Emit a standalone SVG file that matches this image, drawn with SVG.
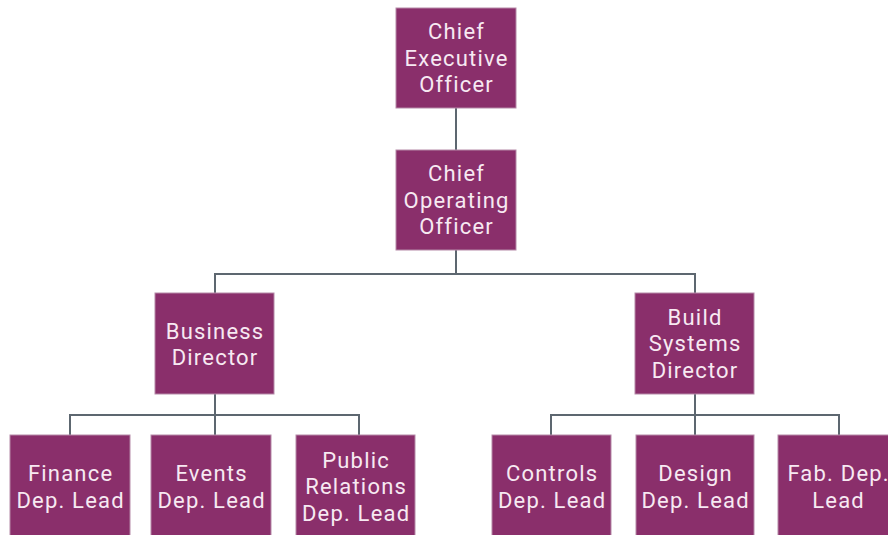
<svg xmlns="http://www.w3.org/2000/svg" width="888" height="535" viewBox="0 0 888 535">
<style>
.box{fill:#8a2f6b;stroke:#b58aa8;stroke-width:1}
.t{font-family:Roboto,"Liberation Sans",sans-serif;font-size:22px;letter-spacing:1.2px;fill:#f7e9f2;text-anchor:middle}
.c{fill:none;stroke:#5d6770;stroke-width:2}
</style>
<rect width="888" height="535" fill="#ffffff"/>
<g id="connectors">
<path class="c" d="M456 108V150"/>
<path class="c" d="M456 250V274M215 293V274H695V293"/>
<path class="c" d="M215 394V435M70 435V415H359V435"/>
<path class="c" d="M695 394V435M551 435V415H839V435"/>
</g>
<g id="ceo"><rect class="box" x="396" y="8" width="120" height="100"/>
<text class="t" x="456.6" y="39">Chief</text><text class="t" x="456.6" y="66">Executive</text><text class="t" x="456.6" y="92">Officer</text></g>
<g id="coo"><rect class="box" x="396" y="150" width="120" height="100"/>
<text class="t" x="456.6" y="181">Chief</text><text class="t" x="456.6" y="208">Operating</text><text class="t" x="456.6" y="234">Officer</text></g>
<g id="business"><rect class="box" x="155" y="293" width="119" height="101"/>
<text class="t" x="215.1" y="338.5">Business</text><text class="t" x="215.1" y="365">Director</text></g>
<g id="build"><rect class="box" x="635" y="293" width="119" height="101"/>
<text class="t" x="695.1" y="324.5">Build</text><text class="t" x="695.1" y="351">Systems</text><text class="t" x="695.1" y="377.5">Director</text></g>
<g id="finance"><rect class="box" x="10" y="435" width="120" height="110"/>
<text class="t" x="70.6" y="481">Finance</text><text class="t" x="70.6" y="508">Dep. Lead</text></g>
<g id="events"><rect class="box" x="151" y="435" width="120" height="110"/>
<text class="t" x="211.6" y="481">Events</text><text class="t" x="211.6" y="508">Dep. Lead</text></g>
<g id="pr"><rect class="box" x="296" y="435" width="119" height="110"/>
<text class="t" x="356.1" y="467.5">Public</text><text class="t" x="356.1" y="494">Relations</text><text class="t" x="356.1" y="520.5">Dep. Lead</text></g>
<g id="controls"><rect class="box" x="492" y="435" width="119" height="110"/>
<text class="t" x="552.1" y="481">Controls</text><text class="t" x="552.1" y="508">Dep. Lead</text></g>
<g id="design"><rect class="box" x="636" y="435" width="118" height="110"/>
<text class="t" x="695.6" y="481">Design</text><text class="t" x="695.6" y="508">Dep. Lead</text></g>
<g id="fab"><rect class="box" x="778" y="435" width="120" height="110"/>
<text class="t" x="838.6" y="481">Fab. Dep.</text><text class="t" x="838.6" y="508">Lead</text></g>
</svg>
